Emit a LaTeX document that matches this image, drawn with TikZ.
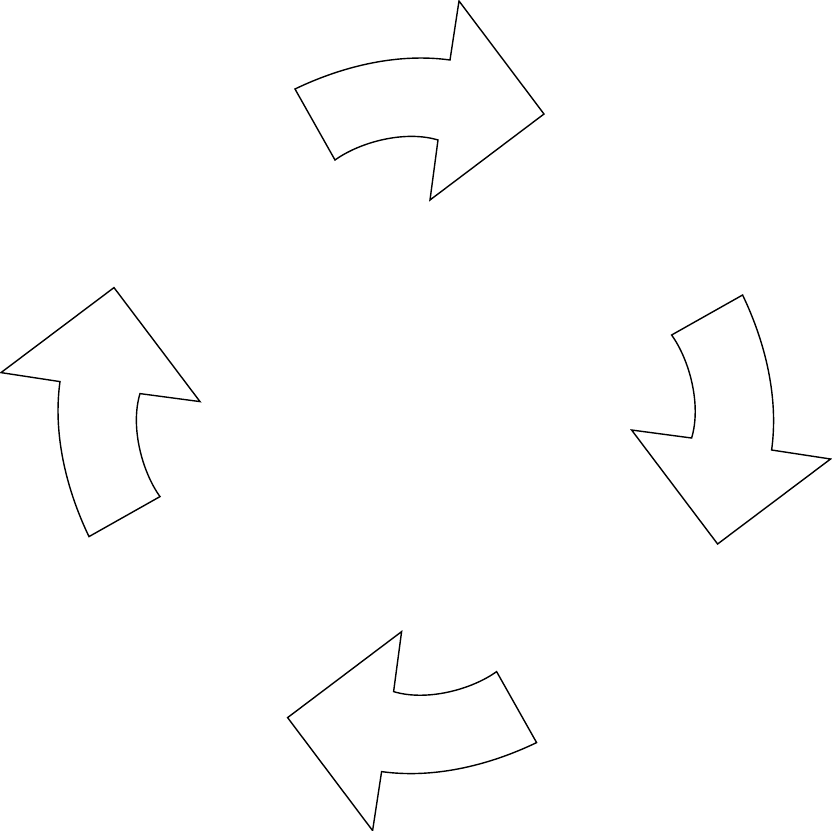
\documentclass[tikz,border=0pt]{standalone}
\begin{document}
\begin{tikzpicture}[x=1pt,y=-1pt]
\tikzset{arrowshape/.style={draw=black, line width=1.4pt, line join=miter, fill=white}}
\useasboundingbox (0,0) rectangle (831,831);
\foreach \a in {0,90,180,270}{
  \draw[arrowshape, rotate around={-\a:(415.8,415.8)}]
    (295,89) .. controls (345,65) and (400,53) .. (450,60)
    -- (459,1) -- (544,114) -- (430,200) -- (438,140)
    .. controls (405,130) and (360,142) .. (335,160) -- cycle;
}
\end{tikzpicture}
\end{document}
